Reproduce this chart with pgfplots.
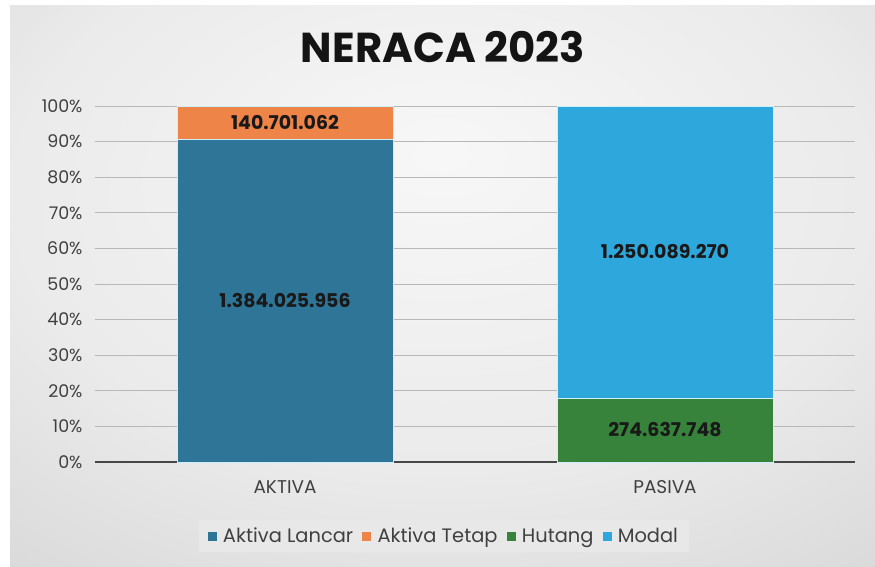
\documentclass[border=0pt]{standalone}
\usepackage{pgfplots}
\pgfplotsset{compat=1.18}
\usepackage{fontspec}
\setmainfont{Poppins}
\definecolor{cLancar}{HTML}{2F7597}
\definecolor{cTetap}{HTML}{EE8447}
\definecolor{cHutang}{HTML}{37833B}
\definecolor{cModal}{HTML}{2EA7DD}
\definecolor{txt}{HTML}{404040}
\pgfdeclareradialshading{bgshade}{\pgfpoint{0bp}{12bp}}{color(0bp)=(white!97!black); color(25bp)=(white!92!black); color(55bp)=(white!79!black); color(80bp)=(white!75!black)}
\begin{document}
\begin{tikzpicture}
\fill[white] (0bp,0bp) rectangle (875bp,567bp);
\shade[shading=bgshade] (10bp,0bp) rectangle (875bp,561bp);
\node[font=\fontsize{42}{46}\selectfont\bfseries, text=black!92] at (443bp,520bp) {NERACA 2023};
\begin{axis}[at={(95bp,105bp)}, anchor=south west, scale only axis,
  width=760bp, height=356bp,
  ybar stacked, bar width=216bp,
  xmin=-0.5, xmax=1.5, ymin=0, ymax=100,
  xtick={0,1}, xticklabels={AKTIVA,PASIVA},
  ytick={0,10,...,100},
  yticklabels={0\%,10\%,20\%,30\%,40\%,50\%,60\%,70\%,80\%,90\%,100\%},
  major tick length=0pt,
  axis line style={draw=none},
  ymajorgrids, grid style={black!28, line width=0.8bp},
  yticklabel style={xshift=-9bp, font=\fontsize{17.5}{20}\selectfont, text=txt},
  xticklabel style={yshift=-15bp, font=\fontsize{18.5}{21}\selectfont, text=txt},
  clip=false,
  point meta=explicit symbolic,
  nodes near coords,
  every node near coord/.append style={anchor=center, font=\fontsize{19}{22}\selectfont\bfseries, text=black!90},
  legend columns=4,
  legend style={at={(0.459,-0.208)}, anchor=center, fill=white!91!black, draw=none,
    font=\fontsize{19.5}{22}\selectfont, text=txt, inner xsep=9bp, inner ysep=6bp,
    /tikz/every even column/.append style={column sep=7bp}},
  legend image code/.code={\fill[#1,draw=none] (0bp,-4.5bp) rectangle (9bp,4.5bp); \path (13bp,0bp);},
]
\addplot[fill=cLancar, draw=white!80!cyan, line width=0.6bp] coordinates {(0,90.772) [1.384.025.956] (1,0) []};
\addplot[fill=cTetap, draw=white!80!cyan, line width=0.6bp] coordinates {(0,9.228) [140.701.062] (1,0) []};
\addplot[fill=cHutang, draw=white!80!cyan, line width=0.6bp] coordinates {(0,0) [] (1,18.012) [274.637.748]};
\addplot[fill=cModal, draw=white!80!cyan, line width=0.6bp] coordinates {(0,0) [] (1,81.988) [1.250.089.270]};
\legend{Aktiva Lancar, Aktiva Tetap, Hutang, Modal}
\draw[black!72, line width=2bp] (axis cs:-0.5,0) -- (axis cs:1.5,0);
\end{axis}
\end{tikzpicture}
\end{document}
